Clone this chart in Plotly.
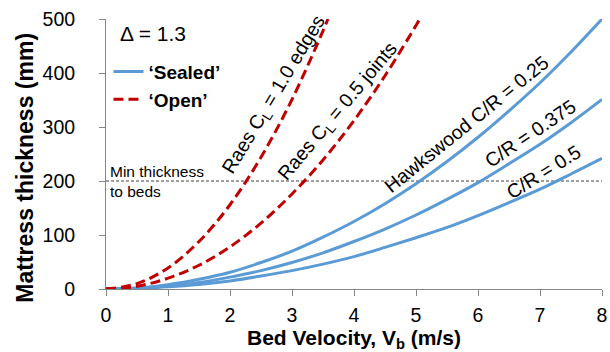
import plotly.graph_objects as go

# ---- data ----
v_hawk = [0, 0.5, 1, 1.5, 2, 2.5, 3, 3.5, 4, 4.5, 5, 5.5, 6, 6.5, 7, 7.5, 8]
hawk_025 = [0, 2, 8, 18, 31, 49, 70, 96, 125, 158, 195, 236, 281, 330, 382, 439, 500]
hawk_0375 = [0, 1.4, 5.5, 12, 22, 34, 49, 67, 88, 111, 137, 166, 197, 232, 268, 308, 351]
hawk_05 = [0, 1, 4, 8.5, 15, 24, 34, 46, 60, 77, 95, 114, 136, 160, 185, 213, 242]

v_raes10 = [0, 0.5, 1, 1.5, 2, 2.5, 3, 3.5, 3.58]
raes_10 = [0, 10, 39, 88, 156, 244, 351, 478, 500]

v_raes05 = [0, 0.5, 1, 1.5, 2, 2.5, 3, 3.5, 4, 4.5, 5, 5.06]
raes_05 = [0, 5, 20, 44, 78, 122, 176, 239, 312, 395, 488, 500]

min_x = [0, 8]
min_y = [200, 200]

x_ticks = [0, 1, 2, 3, 4, 5, 6, 7, 8]
y_ticks = [0, 100, 200, 300, 400, 500]

BLUE = "#5B9BD5"
RED = "#C00000"
FONT = "Liberation Sans, Arial, sans-serif"

fig = go.Figure()

fig.add_trace(go.Scatter(x=min_x, y=min_y, mode="lines",
                         line=dict(color="#404040", width=1, dash="3px,2px"),
                         showlegend=False, hoverinfo="skip"))

for i, ys in enumerate([hawk_025, hawk_0375, hawk_05]):
    fig.add_trace(go.Scatter(x=v_hawk, y=ys, mode="lines",
                             line=dict(color=BLUE, width=3, shape="spline"),
                             name="‘Sealed’", showlegend=(i == 0), legendrank=1))

for i, (vx, ys) in enumerate([(v_raes10, raes_10), (v_raes05, raes_05)]):
    fig.add_trace(go.Scatter(x=vx, y=ys, mode="lines",
                             line=dict(color=RED, width=3, dash="10px,5px", shape="spline"),
                             name="‘Open’", showlegend=(i == 0), legendrank=2))

ann_font = dict(family=FONT, size=19.5, color="#000000")
annotations = [
    dict(x=2.72, y=360, text="Raes C<sub>L</sub> = 1.0 edges", textangle=-59),
    dict(x=3.75, y=328, text="Raes C<sub>L</sub> = 0.5 joints", textangle=-50),
    dict(x=5.81, y=306, text="Hawkswood C/R = 0.25", textangle=-39),
    dict(x=6.85, y=288, text="C/R = 0.375", textangle=-34),
    dict(x=7.05, y=217, text="C/R = 0.5", textangle=-32),
]
for a in annotations:
    fig.add_annotation(xref="x", yref="y", showarrow=False, font=ann_font, **a)

fig.add_annotation(xref="x", yref="y", x=0.03, y=200, xanchor="left", yanchor="middle",
                   text="Min thickness<br>to beds", align="left", showarrow=False,
                   font=dict(family=FONT, size=15.5, color="#000000"))

fig.add_annotation(xref="paper", yref="paper", x=0.025, y=0.945, xanchor="left", yanchor="middle",
                   text="Δ = 1.3", showarrow=False,
                   font=dict(family=FONT, size=21, color="#000000"))

fig.add_annotation(xref="paper", yref="paper", x=-0.165, y=0.45, xanchor="center", yanchor="middle",
                   text="<b>Mattress thickness (mm)</b>", textangle=-90, showarrow=False,
                   font=dict(family=FONT, size=23, color="#000000"))

fig.update_layout(
    width=610, height=352,
    margin=dict(l=106, r=8, t=19, b=63),
    paper_bgcolor="white", plot_bgcolor="white",
    font=dict(family=FONT, color="#000000"),
    showlegend=True,
    legend=dict(x=0.005, y=0.875, xanchor="left", yanchor="top",
                bgcolor="rgba(0,0,0,0)", borderwidth=0,
                font=dict(family=FONT, size=19, color="#000000", weight="bold"),
                tracegroupgap=0),
    xaxis=dict(range=[0, 8], tickvals=x_ticks, showgrid=False, zeroline=False,
               showline=True, linecolor="#868686", linewidth=1, automargin=False,
               ticks="outside", ticklen=6, tickcolor="#868686",
               tickfont=dict(family=FONT, size=19.5, color="#000000"),
               ticklabelstandoff=3,
               title=dict(text="<b>Bed Velocity, V<sub>b</sub> (m/s)</b>",
                          font=dict(family=FONT, size=21, color="#000000"), standoff=6)),
    yaxis=dict(range=[0, 500], tickvals=y_ticks, showgrid=False, zeroline=False,
               showline=True, linecolor="#868686", linewidth=1, automargin=False,
               ticks="outside", ticklen=6, tickcolor="#868686",
               tickfont=dict(family=FONT, size=19.5, color="#000000"),
               ticklabelstandoff=20),
)

fig.write_html("out.html")
